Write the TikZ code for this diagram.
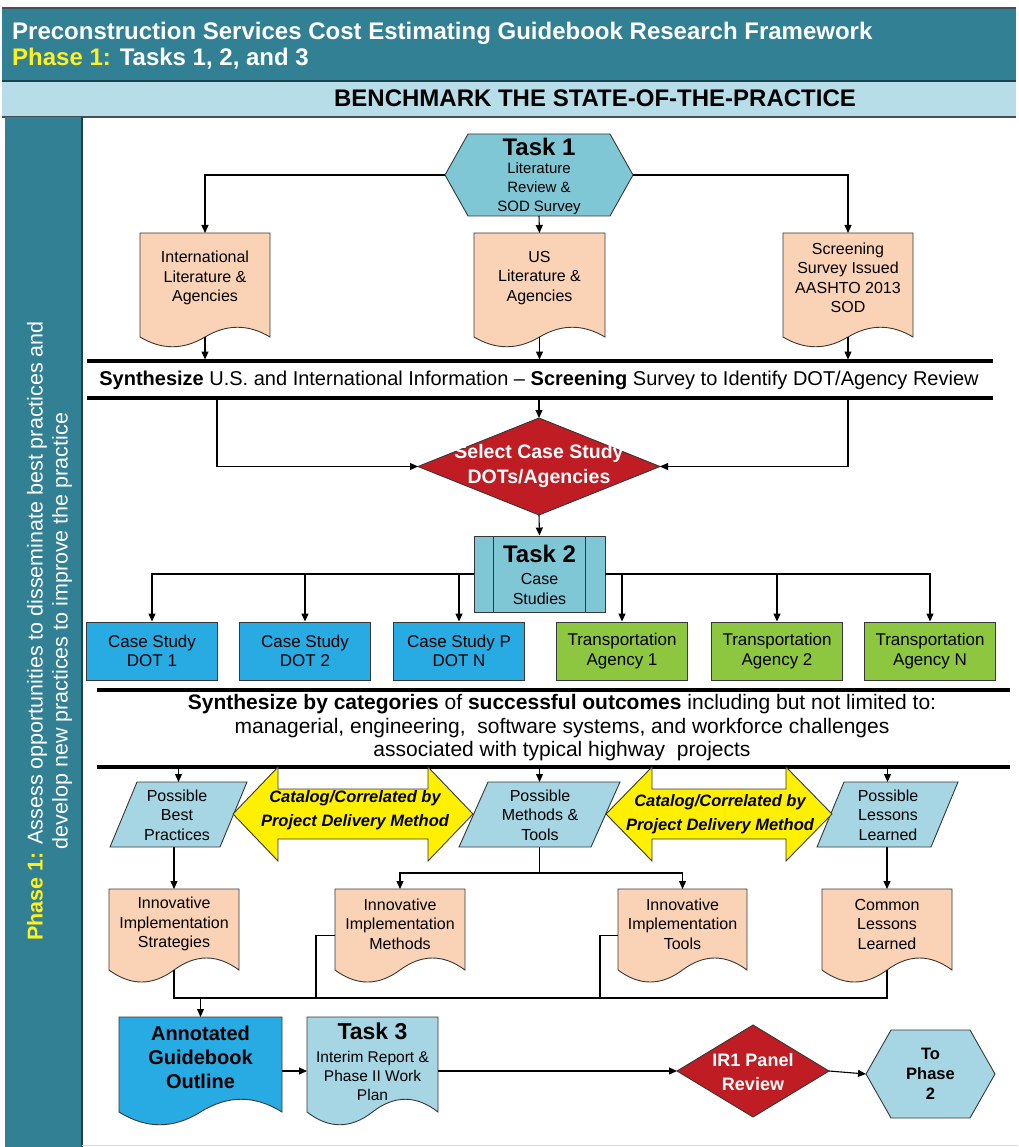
\documentclass[tikz,border=0pt]{standalone}
\usepackage{fontspec}
\setmainfont{Liberation Sans}
\usetikzlibrary{arrows.meta,calc}

\definecolor{headteal}{RGB}{50,128,148}
\definecolor{edgeteal}{RGB}{28,66,76}
\definecolor{edgegray}{RGB}{70,80,84}
\definecolor{bandblue}{RGB}{183,222,232}
\definecolor{phaseyellow}{RGB}{255,240,30}
\definecolor{taskblue}{RGB}{128,199,214}
\definecolor{paleblue}{RGB}{166,214,228}
\definecolor{peach}{RGB}{250,210,182}
\definecolor{skyblue}{RGB}{40,170,226}
\definecolor{leafgreen}{RGB}{141,198,63}
\definecolor{alertred}{RGB}{192,28,36}
\definecolor{arrowyellow}{RGB}{255,240,0}
\definecolor{outline}{RGB}{55,55,55}
\definecolor{rulegray}{RGB}{215,215,215}

% document shape: straight top and sides, wavy bottom (trough left, crest right)
\newcommand\docshape[3]{%
  \draw[shapeline,fill=#2] (#1.north west) -- (#1.north east) -- (#1.south east)
    .. controls ($(#1.south east)!1/3!(#1.south)+(0,-#3)$) and ($(#1.south)!1/3!(#1.south east)+(0,-#3)$) .. (#1.south)
    .. controls ($(#1.south)!1/3!(#1.south west)+(0,#3)$) and ($(#1.south west)!1/3!(#1.south)+(0,#3)$) .. (#1.south west) -- cycle;}
% flat-topped hexagon
\newcommand\hexshape[3]{%
  \draw[shapeline,fill=#2] (#1.west) -- ([xshift=#3]#1.north west) -- ([xshift=-#3]#1.north east)
    -- (#1.east) -- ([xshift=-#3]#1.south east) -- ([xshift=#3]#1.south west) -- cycle;}
% decision diamond
\newcommand\diashape[2]{%
  \draw[shapeline,fill=#2] (#1.west) -- (#1.north) -- (#1.east) -- (#1.south) -- cycle;}
% data parallelogram
\newcommand\parashape[3]{%
  \draw[shapeline,fill=#2] ([xshift=#3]#1.north west) -- (#1.north east) -- ([xshift=-#3]#1.south east) -- (#1.south west) -- cycle;}
% two-headed block arrow around a shaft box
\newcommand\dblarrow[4]{%
  \draw[shapeline,fill=#2] (#1.west) -- ([xshift=#3,yshift=#4]#1.west) -- ([xshift=#3]#1.north west)
    -- ([xshift=-#3]#1.north east) -- ([xshift=-#3,yshift=#4]#1.east) -- (#1.east)
    -- ([xshift=-#3,yshift=-#4]#1.east) -- ([xshift=-#3]#1.south east) -- ([xshift=#3]#1.south west)
    -- ([xshift=#3,yshift=-#4]#1.west) -- cycle;}

\begin{document}
\begin{tikzpicture}[x=1pt,y=-1pt,
  shapebox/.style={inner sep=0pt,outer sep=0pt},
  shapeline/.style={draw=outline,line width=0.9pt},
  txt/.style={inner sep=0pt,align=center,font=\fontsize{16}{19.5}\selectfont},
  conn/.style={line width=1.1pt},
  arr/.style={conn,-{Triangle[length=8pt,width=7pt]}},
  bar/.style={line width=4pt},
  plainbox/.style={shapeline,inner sep=0pt,minimum width=131,minimum height=58,txt,font=\fontsize{17}{19.5}\selectfont}
]
\useasboundingbox (0,0) rectangle (1018,1147);

% ---- title bands ----
\fill[headteal] (2,8) rectangle (1016,81);
\fill[bandblue] (2,81) rectangle (1016,117);
\draw[edgegray,line width=1.5pt] (2,8) -- (1016,8);
\draw[edgeteal,line width=2pt] (2,81) -- (1016,81);
\draw[edgegray,line width=1.5pt] (2,117) -- (1016,117);
\node[anchor=base west,inner sep=0pt,text=white,font=\bfseries\fontsize{24}{28}\selectfont] (title) at (12,40)
  {Preconstruction Services Cost Estimating Guidebook Research Framework};
\node[anchor=base west,inner sep=0pt,text=white,font=\bfseries\fontsize{24}{28}\selectfont] (phase) at (12,66)
  {\textcolor{phaseyellow}{Phase 1:} Tasks 1, 2, and 3};
\node[anchor=base,inner sep=0pt,font=\bfseries\fontsize{24}{28}\selectfont] (bench) at (595,107)
  {BENCHMARK THE STATE-OF-THE-PRACTICE};

% ---- side band ----
\fill[headteal] (5,117) rectangle (82,1147);
\draw[edgeteal,line width=1.2pt] (82,117) -- (82,1147);
\draw[rulegray,line width=1pt] (82,1145) -- (1018,1145);
\node[rotate=90,align=center,inner sep=0pt,text=white,font=\fontsize{21.5}{25}\selectfont] (side) at (49.5,631)
  {\textcolor{phaseyellow}{\bfseries Phase 1:} Assess opportunities to disseminate best practices and\\
   develop new practices to improve the practice};

% ---- Task 1 ----
\node[shapebox,minimum width=188,minimum height=82] (t1) at (539,175) {};
\hexshape{t1}{taskblue}{23}
\node[txt,font=\bfseries\fontsize{24}{26}\selectfont] (t1-h) at (539,147) {Task 1};
\node[txt,font=\fontsize{15}{19}\selectfont] (t1-t) at (539,189) {Literature\\Review \&\\SOD Survey};

\node[shapebox,minimum width=130,minimum height=104] (intl) at (205,285) {};
\docshape{intl}{peach}{13}
\node[txt] (intl-t) at (205,278) {International\\Literature \&\\Agencies};

\node[shapebox,minimum width=131,minimum height=104] (us) at (539.5,285) {};
\docshape{us}{peach}{13}
\node[txt] (us-t) at (539.5,278) {US\\Literature \&\\Agencies};

\node[shapebox,minimum width=130,minimum height=104] (scr) at (848,285) {};
\docshape{scr}{peach}{13}
\node[txt] (scr-t) at (848,278) {Screening\\Survey Issued\\AASHTO 2013\\SOD};

\draw[arr] (t1.west) -| (intl.north);
\draw[arr] (t1.east) -| (scr.north);
\draw[arr] (t1.south) -- (us.north);

% ---- first synthesis bar ----
\node[shapebox,minimum width=906,minimum height=37] (bar1) at (540,379.5) {};
\draw[bar] (bar1.north west) -- (bar1.north east);
\draw[bar] (bar1.south west) -- (bar1.south east);
\node[txt,font=\fontsize{20}{22}\selectfont] (bar1-t) at (539,380)
  {\textbf{Synthesize} U.S. and International Information -- \textbf{Screening} Survey to Identify DOT/Agency Review};
\draw[arr,shorten >=1.5pt] (intl.south) -- (intl.south |- bar1.north);
\draw[arr,shorten >=1.5pt] (us.south) -- (us.south |- bar1.north);
\draw[arr,shorten >=1.5pt] (scr.south) -- (scr.south |- bar1.north);

% ---- case study selection ----
\node[shapebox,minimum width=242,minimum height=97] (sel) at (539,466.5) {};
\diashape{sel}{alertred}
\node[txt,text=white,font=\bfseries\fontsize{19.5}{25}\selectfont] (sel-t) at (539,466) {Select Case Study\\DOTs/Agencies};
\coordinate (b1left) at (217,398);
\draw[arr] (sel.north |- bar1.south) -- (sel.north);
\draw[arr] (b1left) |- (sel.west);
\draw[arr] (scr.south |- bar1.south) |- (sel.east);

% ---- Task 2 ----
\node[shapeline,fill=taskblue,inner sep=0pt,minimum width=131,minimum height=76] (t2) at (539.5,574) {};
\draw[shapeline] ([xshift=20]t2.north west) -- ([xshift=20]t2.south west);
\draw[shapeline] ([xshift=-20]t2.north east) -- ([xshift=-20]t2.south east);
\node[txt,font=\bfseries\fontsize{24}{26}\selectfont] (t2-h) at (539.5,554) {Task 2};
\node[txt] (t2-t) at (539.5,589) {Case\\Studies};
\draw[arr] (sel.south) -- (t2.north);

\node[plainbox,fill=skyblue] (cs1) at (152,651) {Case Study\\DOT 1};
\node[plainbox,fill=skyblue] (cs2) at (305,651) {Case Study\\DOT 2};
\node[plainbox,fill=skyblue] (cs3) at (459,651) {Case Study P\\DOT N};
\node[plainbox,fill=leafgreen] (ag1) at (622,651) {Transportation\\Agency 1};
\node[plainbox,fill=leafgreen] (ag2) at (777,651) {Transportation\\Agency 2};
\node[plainbox,fill=leafgreen] (ag3) at (930,651) {Transportation\\Agency N};

\draw[arr] (t2.west) -| (cs1.north);
\draw[arr] (t2.west -| cs2.north) -- (cs2.north);
\draw[arr] (t2.west -| cs3.north) -- (cs3.north);
\draw[arr] (t2.east) -| (ag3.north);
\draw[arr] (t2.east -| ag1.north) -- (ag1.north);
\draw[arr] (t2.east -| ag2.north) -- (ag2.north);

% ---- second synthesis bar ----
\node[shapebox,minimum width=913,minimum height=77] (bar2) at (553.5,728.5) {};
\draw[bar] (bar2.north west) -- (bar2.north east);
\draw[bar] (bar2.south west) -- (bar2.south east);
\node[txt,font=\fontsize{21}{23.5}\selectfont] (bar2-t) at (562,728)
  {\textbf{Synthesize by categories} of \textbf{successful outcomes} including but not limited to:\\
   managerial, engineering,\ \ software systems, and workforce challenges\\
   associated with typical highway\ \ projects};

% ---- outcome categories ----
\node[shapebox,minimum width=137,minimum height=65] (pbest) at (178.5,814.5) {};
\parashape{pbest}{paleblue}{27}
\node[txt] (pbest-t) at (177,815) {Possible\\Best\\Practices};

\node[shapebox,minimum width=161,minimum height=65] (pmeth) at (539.5,814.5) {};
\parashape{pmeth}{paleblue}{29}
\node[txt] (pmeth-t) at (540,815) {Possible\\Methods \&\\Tools};

\node[shapebox,minimum width=141,minimum height=65] (pless) at (887.5,814.5) {};
\parashape{pless}{paleblue}{27}
\node[txt] (pless-t) at (888,815) {Possible\\Lessons\\Learned};

\node[shapebox,minimum width=240,minimum height=50] (cat1) at (353,814) {};
\dblarrow{cat1}{arrowyellow}{45}{47}
\node[txt,font=\bfseries\itshape\fontsize{16.5}{24}\selectfont] (cat1-t) at (355,810) {Catalog/Correlated by\\Project Delivery Method};

\node[shapebox,minimum width=226,minimum height=50] (cat2) at (719,814) {};
\dblarrow{cat2}{arrowyellow}{46}{47}
\node[txt,font=\bfseries\itshape\fontsize{16.5}{24}\selectfont] (cat2-t) at (720,814) {Catalog/Correlated by\\Project Delivery Method};

\draw[arr,shorten <=1.5pt] (pbest.north |- bar2.south) -- (pbest.north);
\draw[arr,shorten <=1.5pt] (pmeth.north |- bar2.south) -- (pmeth.north);
\draw[arr,shorten <=1.5pt] (pless.north |- bar2.south) -- (pless.north);

% ---- implementation documents ----
\node[shapebox,minimum width=130,minimum height=81] (strat) at (174,929.5) {};
\docshape{strat}{peach}{16}
\node[txt] (strat-t) at (174,924) {Innovative\\Implementation\\Strategies};

\node[shapebox,minimum width=130,minimum height=81] (meth) at (400,929.5) {};
\docshape{meth}{peach}{16}
\node[txt] (meth-t) at (400,924) {Innovative\\Implementation\\Methods};

\node[shapebox,minimum width=129,minimum height=81] (tools) at (682.5,929.5) {};
\docshape{tools}{peach}{16}
\node[txt] (tools-t) at (682.5,924) {Innovative\\Implementation\\Tools};

\node[shapebox,minimum width=130,minimum height=81] (common) at (887,929.5) {};
\docshape{common}{peach}{16}
\node[txt] (common-t) at (887,924) {Common\\Lessons\\Learned};

\coordinate (split) at (539.5,873);
\draw[arr] (strat.north |- pbest.south) -- (strat.north);
\draw[conn] (pmeth.south) -- (split);
\draw[arr] (split) -| (meth.north);
\draw[arr] (split) -| (tools.north);
\draw[arr] (common.north |- pless.south) -- (common.north);

\coordinate (merge) at (200,998);
\coordinate (mdrop) at (316,998);
\coordinate (tdrop) at (600,998);
\draw[conn] (strat.south) |- (common.south |- merge) -- (common.south);
\draw[conn] ([yshift=-6]meth.west) -| (mdrop);
\draw[conn] ([yshift=-6]tools.west) -| (tdrop);

% ---- deliverables ----
\node[shapebox,minimum width=163,minimum height=95] (annot) at (200.5,1064.5) {};
\docshape{annot}{skyblue}{17}
\node[txt,font=\bfseries\fontsize{20}{24}\selectfont] (annot-t) at (200.5,1057) {Annotated\\Guidebook\\Outline};

\node[shapebox,minimum width=131,minimum height=95] (t3) at (372.5,1064.5) {};
\docshape{t3}{paleblue}{17}
\node[txt,font=\bfseries\fontsize{23}{25}\selectfont] (t3-h) at (372.5,1031) {Task 3};
\node[txt,font=\fontsize{15.5}{19}\selectfont] (t3-t) at (372.5,1076) {Interim Report \&\\Phase II Work\\Plan};

\node[shapebox,minimum width=152,minimum height=92] (ir1) at (753,1071) {};
\diashape{ir1}{alertred}
\node[txt,text=white,font=\bfseries\fontsize{18}{24}\selectfont] (ir1-t) at (753,1072) {IR1 Panel\\Review};

\node[shapebox,minimum width=129,minimum height=88] (ph2) at (930.5,1074) {};
\hexshape{ph2}{paleblue}{25}
\node[txt,font=\bfseries\fontsize{16.5}{20}\selectfont] (ph2-t) at (930.5,1074) {To\\Phase\\2};

\draw[arr] (annot.north |- merge) -- (annot.north);
\draw[arr] (annot.east |- ir1) -- (t3.west |- ir1);
\draw[arr] (t3.east |- ir1) -- (ir1.west);
\draw[arr] (ir1.east) -- (ph2.west);
\end{tikzpicture}
\end{document}
